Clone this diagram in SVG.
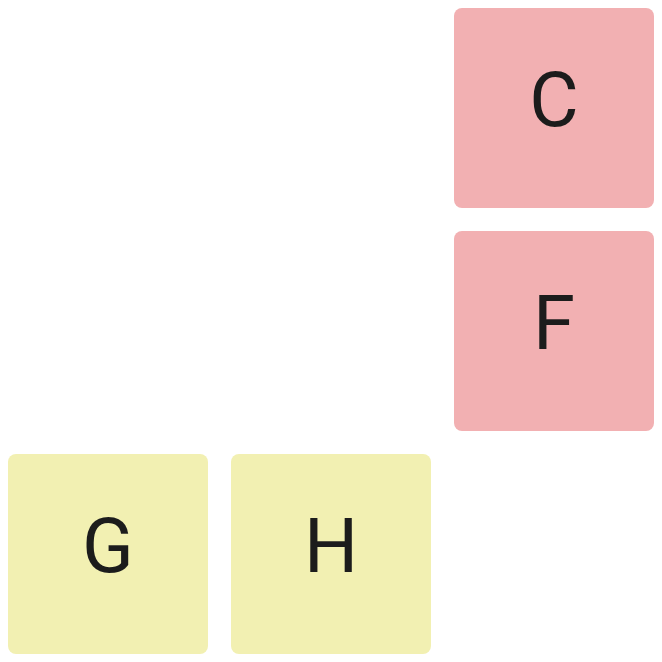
<svg xmlns="http://www.w3.org/2000/svg" width="662" height="662" viewBox="0 0 662 662">
<style>
.pink{fill:#f2b0b2}
.yellow{fill:#f2f0b2}
.lbl{font-family:Roboto,"Liberation Sans",sans-serif;font-size:76px;fill:#1c1c1c;text-anchor:middle}
</style>
<rect width="662" height="662" fill="#ffffff"/>
<g id="connectors"></g>
<g id="C"><rect class="pink" x="454" y="8" width="200" height="200" rx="8"/><text class="lbl" x="554" y="126">C</text></g>
<g id="F"><rect class="pink" x="454" y="231" width="200" height="200" rx="8"/><text class="lbl" x="554" y="349">F</text></g>
<g id="G"><rect class="yellow" x="8" y="454" width="200" height="200" rx="8"/><text class="lbl" x="108" y="572">G</text></g>
<g id="H"><rect class="yellow" x="231" y="454" width="200" height="200" rx="8"/><text class="lbl" x="331" y="572">H</text></g>
</svg>
